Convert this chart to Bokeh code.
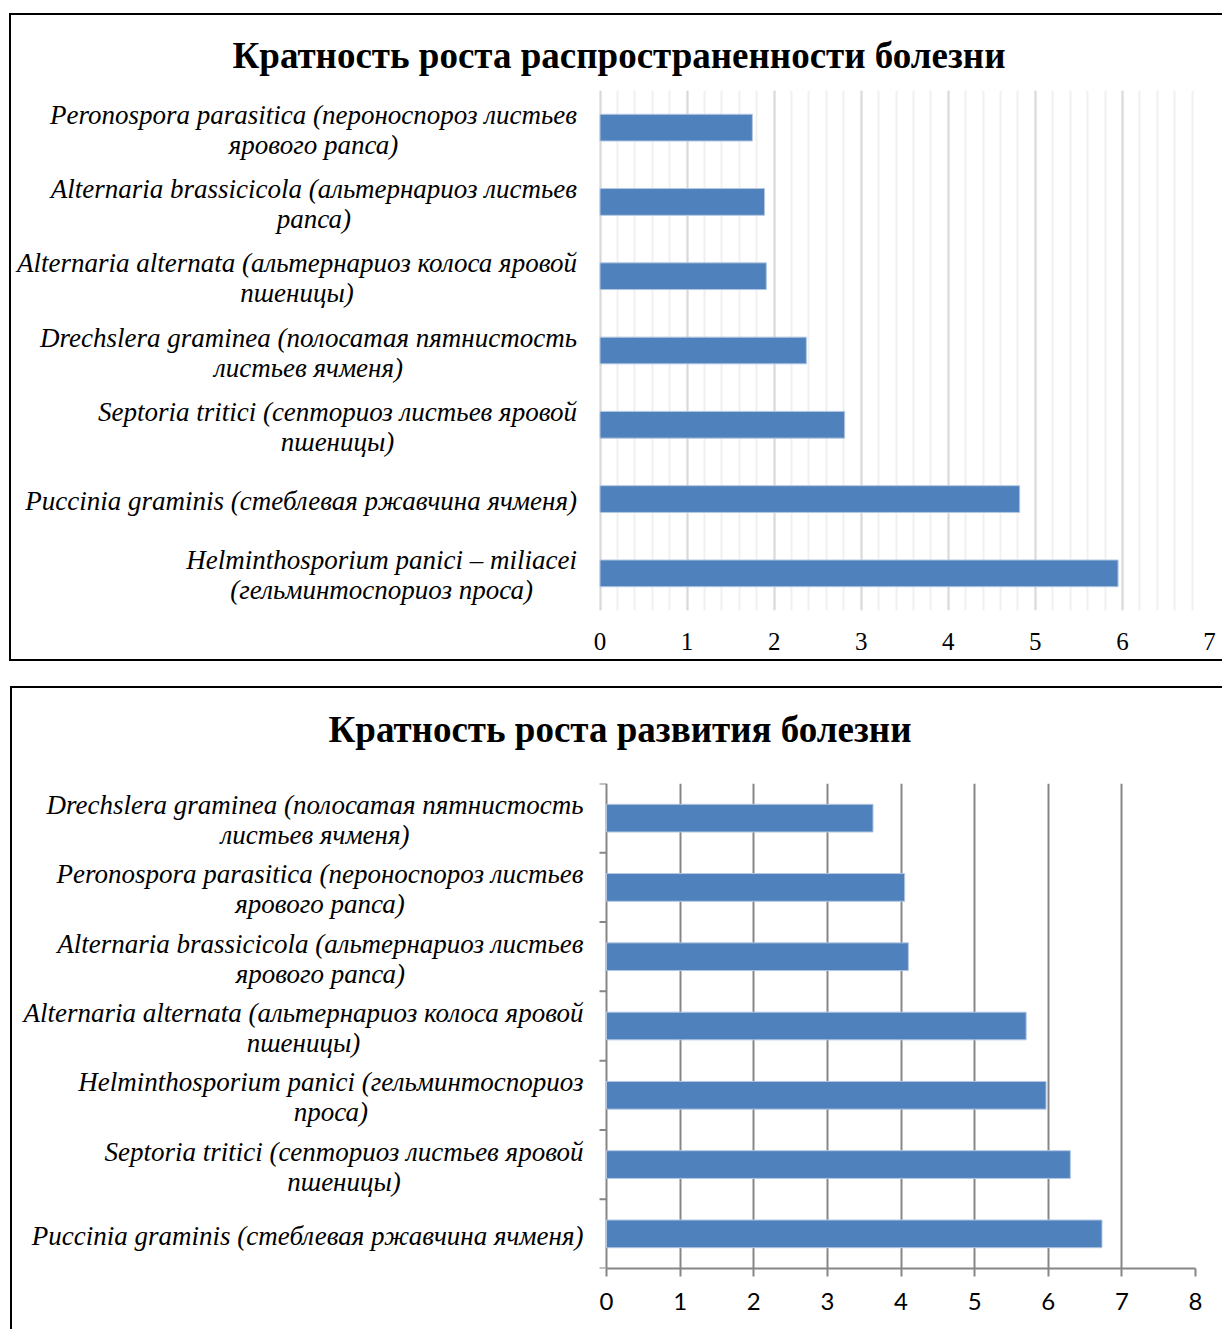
from bokeh.plotting import figure
from bokeh.models import FixedTicker, Range1d, Title
from bokeh.core.properties import value
from bokeh.embed import file_html
from bokeh.resources import INLINE

# --- data: spread growth factor (top chart), listed top to bottom ---
spread_labels = [
    "Peronospora parasitica (пероноспороз листьев\nярового рапса)",
    "Alternaria brassicicola (альтернариоз листьев\nрапса)",
    "Alternaria alternata (альтернариоз колоса яровой\nпшеницы)",
    "Drechslera graminea (полосатая пятнистость\nлистьев ячменя)",
    "Septoria tritici (септориоз листьев яровой\nпшеницы)",
    "Puccinia graminis (стеблевая ржавчина ячменя)",
    "Helminthosporium panici – miliacei\n(гельминтоспориоз проса)",
]
spread_values = [1.75, 1.89, 1.91, 2.37, 2.81, 4.82, 5.95]
spread_ticks = [0, 1, 2, 3, 4, 5, 6, 7]

# --- data: development growth factor (bottom chart), listed top to bottom ---
develop_labels = [
    "Drechslera graminea (полосатая пятнистость\nлистьев ячменя)",
    "Peronospora parasitica (пероноспороз листьев\nярового рапса)",
    "Alternaria brassicicola (альтернариоз листьев\nярового рапса)",
    "Alternaria alternata (альтернариоз колоса яровой\nпшеницы)",
    "Helminthosporium panici (гельминтоспориоз\nпроса)",
    "Septoria tritici (септориоз листьев яровой\nпшеницы)",
    "Puccinia graminis (стеблевая ржавчина ячменя)",
]
develop_values = [3.62, 4.05, 4.10, 5.70, 5.97, 6.30, 6.73]
develop_ticks = [0, 1, 2, 3, 4, 5, 6, 7, 8]

title_top = "Кратность роста распространенности болезни"
title_bottom = "Кратность роста развития болезни"

BAR_FILL = "#4f81bd"
BAR_EDGE = "#b3c7e2"
SERIF = "Liberation Serif"
LABEL_GAP = 23          # px between category text and the value axis origin


def slot_centers(labels):
    n = len(labels)
    return [n - i - 0.5 for i in range(n)]


def make_chart(labels, values, ticks, width, height, frame_right, frame_top,
               frame_bottom, origin_px, title, title_left, title_gap, bar_height):
    """One horizontal bar chart whose frame also holds the category texts
    to the left of the value origin."""
    frame_w = width - frame_right
    px_per_unit = (frame_w - origin_px) / ticks[-1]
    x_start = -origin_px / px_per_unit
    p = figure(
        width=width, height=height,
        x_range=Range1d(x_start, ticks[-1]), y_range=Range1d(0, len(labels)),
        output_backend="svg", toolbar_location=None, y_axis_location=None,
        min_border_left=0, min_border_right=frame_right,
        min_border_top=frame_top, min_border_bottom=frame_bottom,
        outline_line_color=None, background_fill_color="white",
        border_fill_color="white",
    )
    # thin blank strip between the heading and the plot area
    p.add_layout(Title(text=" ", text_font_size="1px", standoff=title_gap), "above")
    p.add_layout(Title(text=title, text_font=SERIF, text_font_style="bold",
                       text_font_size="37px", text_color="black", align="left",
                       offset=title_left, standoff=0), "above")
    p.ygrid.visible = False

    p.hbar(y=slot_centers(labels), right=values, left=0, height=bar_height,
           fill_color=BAR_FILL, line_color=BAR_EDGE, line_width=1)

    p.text(x=0, y=slot_centers(labels), text=labels, x_offset=-LABEL_GAP,
           y_offset=2, anchor=value("center_right"), text_align=value("center"),
           text_font=value(SERIF), text_font_style=value("italic"),
           text_font_size=value("27px"), text_color="black",
           text_line_height=1.0)

    ax = p.xaxis[0]
    ax.ticker = FixedTicker(ticks=ticks)
    ax.major_label_text_color = "black"
    ax.minor_tick_line_color = None
    return p, px_per_unit


# ---------------- top chart ----------------
p1, _ = make_chart(spread_labels, spread_values, spread_ticks, 1211, 644,
                   13, 75, 49, 588.5, title_top, 221, 12, 0.36)
ax1 = p1.xaxis[0]
ax1.axis_line_color = None
ax1.major_tick_line_color = None
ax1.major_label_text_font = SERIF
ax1.major_label_text_font_size = "25px"
ax1.major_label_standoff = 16
minor_steps = [t / 5 for t in range(spread_ticks[-1] * 5 + 1)]
p1.xgrid.ticker = FixedTicker(ticks=spread_ticks, minor_ticks=minor_steps)
p1.xgrid.grid_line_color = "#d9d9d9"
p1.xgrid.grid_line_width = 2
p1.xgrid.minor_grid_line_color = "#f0f0f0"
p1.xgrid.minor_grid_line_width = 2

p1.margin = (15, 0, 0, 11)
p1.styles = {"outline": "2px solid black"}

# ---------------- bottom chart ----------------
GRID = "#868686"
p2, unit2 = make_chart(develop_labels, develop_values, develop_ticks, 1210, 641,
                       27, 95, 61, 594, title_bottom, 316, 31, 0.40)
ax2 = p2.xaxis[0]
ax2.bounds = (develop_ticks[0], develop_ticks[-1])
ax2.axis_line_color = GRID
ax2.axis_line_width = 2
ax2.major_tick_line_color = GRID
ax2.major_tick_line_width = 2
ax2.major_tick_out = 8
ax2.major_tick_in = 0
ax2.major_label_text_font = "Lato"
ax2.major_label_text_font_size = "24px"
ax2.major_label_standoff = 16
p2.xgrid.ticker = FixedTicker(ticks=develop_ticks)
p2.xgrid.grid_line_color = GRID
p2.xgrid.grid_line_width = 2

# category boundary ticks on the value origin line
tick_len = 7 / unit2
bounds_y = list(range(len(develop_labels) + 1))
p2.segment(x0=[-tick_len] * len(bounds_y), x1=[0] * len(bounds_y),
           y0=bounds_y, y1=bounds_y, line_color=GRID, line_width=2)

p2.margin = (29, 0, 0, 12)
p2.styles = {"outline": "2px solid black"}

open("out.html", "w").write(file_html([p1, p2], INLINE))
